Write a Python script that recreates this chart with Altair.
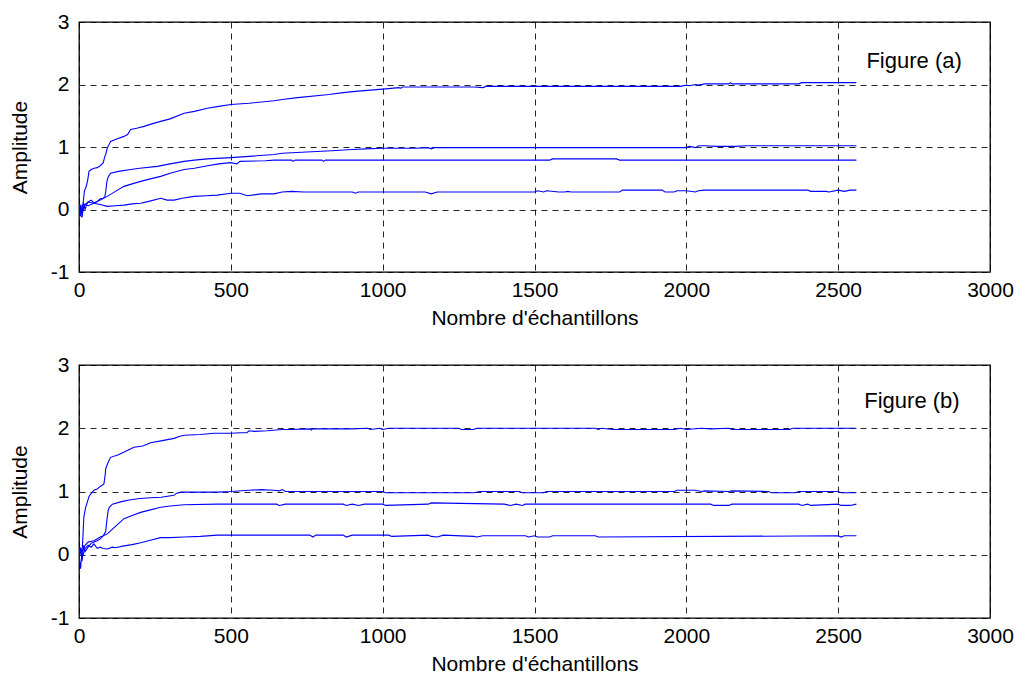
import altair as alt
import pandas as pd

# ---------------- Panel (a) ----------------
a1_x = [0, 3, 6, 10, 14, 18, 22, 28, 33, 40, 50, 60, 70, 80, 85, 88, 93, 100, 104, 120,
        148, 160, 170, 190, 214, 240, 269, 300, 346, 380, 423, 460, 500, 560, 642, 669, 720, 823, 870, 911,
        960, 1010, 1053, 1060, 1065, 1100, 1300, 1330, 1340, 1500, 1980, 2000, 2010, 2030, 2040, 2060, 2140, 2145, 2150, 2370,
        2380, 2560]
a1_y = [0.0, -0.05, 0.08, -0.1, 0.12, 0.3, 0.34, 0.45, 0.61, 0.64, 0.66, 0.67, 0.7, 0.75, 0.85, 0.88, 0.98, 1.05, 1.09, 1.12,
        1.17, 1.2, 1.28, 1.3, 1.33, 1.37, 1.41, 1.45, 1.54, 1.57, 1.62, 1.65, 1.68, 1.70, 1.74, 1.76, 1.79, 1.84, 1.87, 1.89,
        1.91, 1.93, 1.95, 1.94, 1.96, 1.96, 1.96, 1.95, 1.97, 1.97, 1.97, 1.99, 1.98, 2.0, 1.99, 2.01, 2.01, 2.03, 2.01, 2.01,
        2.03, 2.03]

a2_x = [0, 5, 10, 15, 20, 25, 30, 40, 50, 60, 70, 80, 85, 88, 92, 96, 104, 130, 170, 200,
        258, 300, 346, 380, 423, 500, 560, 642, 669, 750, 833, 900, 944, 1000, 1108, 1150, 1160, 1170, 1500, 2000,
        2010, 2030, 2040, 2060, 2100, 2160, 2200, 2300, 2560]
a2_y = [0, -0.08, 0.05, 0.1, 0.0, 0.08, 0.12, 0.15, 0.1, 0.13, 0.17, 0.18, 0.2, 0.29, 0.45, 0.52, 0.58, 0.61, 0.64, 0.66,
        0.69, 0.73, 0.77, 0.79, 0.81, 0.83, 0.85, 0.88, 0.90, 0.92, 0.94, 0.96, 0.97, 0.98, 0.98, 0.99, 0.97, 0.99, 0.99, 0.99,
        1.01, 0.99, 1.02, 1.02, 1.01, 1.01, 1.02, 1.02, 1.02]

a3_x = [0, 5, 10, 20, 30, 49, 70, 93, 120, 148, 175, 203, 235, 269, 300, 346, 380, 423, 460, 500,
        520, 530, 614, 642, 700, 705, 712, 800, 805, 812, 1000, 1500, 1550, 1560, 1770, 1780, 2560]
a3_y = [0, 0.05, -0.05, 0.08, 0.06, 0.10, 0.15, 0.21, 0.29, 0.37, 0.41, 0.45, 0.49, 0.53, 0.58, 0.64, 0.66, 0.70, 0.73, 0.75,
        0.73, 0.77, 0.78, 0.79, 0.79, 0.77, 0.79, 0.79, 0.77, 0.79, 0.79, 0.79, 0.79, 0.81, 0.81, 0.79, 0.79]

a4_x = [0, 5, 10, 15, 20, 30, 49, 70, 93, 120, 148, 175, 203, 230, 269, 290, 313, 340, 379, 420,
        455, 500, 530, 554, 600, 642, 669, 700, 740, 900, 910, 920, 1140, 1160, 1180, 1500, 1510, 1530, 1540, 1580,
        1600, 1610, 1620, 1640, 1780, 1790, 1920, 1930, 1960, 1970, 2000, 2030, 2040, 2060, 2400, 2410, 2460, 2470, 2500, 2520,
        2540, 2560]
a4_y = [0, -0.1, -0.12, 0.05, 0.08, 0.12, 0.10, 0.08, 0.05, 0.06, 0.07, 0.09, 0.10, 0.13, 0.18, 0.15, 0.15, 0.18, 0.21, 0.22,
        0.23, 0.26, 0.26, 0.22, 0.25, 0.25, 0.28, 0.29, 0.28, 0.28, 0.26, 0.28, 0.28, 0.25, 0.28, 0.28, 0.30, 0.28, 0.30, 0.28,
        0.28, 0.29, 0.28, 0.28, 0.28, 0.31, 0.31, 0.28, 0.28, 0.30, 0.30, 0.28, 0.30, 0.31, 0.31, 0.29, 0.29, 0.28, 0.31, 0.29,
        0.31, 0.31]

# ---------------- Panel (b) ----------------
b1_x = [0, 3, 5, 8, 12, 16, 22, 33, 40, 49, 60, 70, 82, 86, 88, 95, 104, 130, 159, 181,
        210, 236, 270, 313, 330, 346, 400, 445, 500, 530, 553, 560, 577, 620, 669, 700, 760, 765, 770, 900,
        950, 960, 990, 1000, 1020, 1250, 1260, 1300, 1310, 1700, 1710, 1720, 1760, 1790, 1960, 1980, 2000, 2050, 2080, 2140,
        2150, 2340, 2350, 2560]
b1_y = [0, -0.15, -0.22, -0.05, 0.2, 0.6, 0.75, 0.92, 0.97, 1.02, 1.04, 1.08, 1.12, 1.25, 1.36, 1.45, 1.54, 1.58, 1.65, 1.70,
        1.72, 1.77, 1.80, 1.84, 1.87, 1.89, 1.90, 1.92, 1.92, 1.93, 1.93, 1.96, 1.95, 1.96, 1.98, 1.98, 1.99, 1.97, 1.99, 1.99,
        2.0, 1.98, 2.0, 1.98, 2.0, 2.0, 1.98, 1.98, 2.0, 2.0, 1.98, 2.0, 1.98, 1.98, 1.98, 2.0, 1.98, 2.0, 1.99, 2.0,
        1.98, 1.98, 2.0, 2.0]

b2_x = [0, 5, 10, 15, 20, 30, 40, 50, 60, 70, 80, 88, 92, 96, 100, 110, 140, 170, 200, 236,
        270, 313, 320, 335, 400, 455, 500, 560, 600, 642, 660, 670, 680, 700, 1000, 1010, 1100, 1150, 1300, 1320,
        1450, 1460, 1530, 1540, 1960, 1970, 2030, 2050, 2060, 2140, 2150, 2270, 2280, 2360, 2370, 2500, 2510, 2560]
b2_y = [0, 0.1, -0.1, 0.15, 0.05, 0.12, 0.18, 0.2, 0.22, 0.25, 0.3, 0.37, 0.55, 0.7, 0.75, 0.80, 0.84, 0.87, 0.89, 0.90,
        0.91, 0.94, 0.97, 0.99, 0.99, 0.99, 1.0, 1.02, 1.03, 1.02, 1.01, 1.03, 1.0, 1.0, 1.0, 0.98, 0.98, 0.98, 0.98, 1.0,
        1.0, 0.98, 0.98, 1.0, 1.0, 1.02, 1.02, 1.0, 1.01, 1.0, 1.01, 1.0, 0.98, 0.98, 1.0, 1.0, 0.98, 0.98]

b3_x = [0, 5, 10, 20, 30, 49, 70, 80, 93, 120, 148, 175, 203, 235, 269, 300, 346, 455, 500, 650,
        660, 680, 870, 880, 900, 920, 940, 1000, 1010, 1150, 1160, 1400, 1420, 1440, 1460, 1470, 2080, 2090, 2140, 2150,
        2370, 2380, 2400, 2410, 2500, 2510, 2540, 2560]
b3_y = [0, 0.1, 0.05, 0.15, 0.2, 0.22, 0.28, 0.3, 0.33, 0.45, 0.57, 0.62, 0.67, 0.71, 0.75, 0.77, 0.79, 0.80, 0.80, 0.80,
        0.78, 0.80, 0.80, 0.78, 0.80, 0.78, 0.80, 0.80, 0.78, 0.80, 0.82, 0.80, 0.78, 0.80, 0.78, 0.80, 0.80, 0.78, 0.78, 0.80,
        0.80, 0.78, 0.80, 0.78, 0.80, 0.78, 0.78, 0.80]

b4_x = [0, 5, 10, 20, 30, 40, 49, 60, 70, 80, 93, 110, 120, 148, 175, 203, 235, 269, 300, 346,
        400, 455, 500, 760, 770, 780, 870, 880, 900, 1020, 1030, 1150, 1160, 1180, 1200, 1300, 1310, 1330, 1470, 1480,
        1500, 1510, 1550, 1560, 1700, 1710, 2500, 2510, 2520, 2560]
b4_y = [0, 0.05, -0.05, 0.1, 0.15, 0.12, 0.17, 0.1, 0.12, 0.1, 0.09, 0.12, 0.11, 0.14, 0.16, 0.19, 0.23, 0.27, 0.27, 0.28,
        0.29, 0.31, 0.31, 0.31, 0.28, 0.31, 0.31, 0.28, 0.31, 0.31, 0.29, 0.31, 0.29, 0.28, 0.31, 0.29, 0.28, 0.30, 0.30, 0.28,
        0.30, 0.28, 0.28, 0.30, 0.30, 0.28, 0.30, 0.28, 0.30, 0.30]

panel_labels = ["Figure (a)", "Figure (b)"]
label_x = [2750, 2743]
label_y = [2.37, 2.43]

x_ticks = [0, 500, 1000, 1500, 2000, 2500, 3000]
y_ticks = [-1, 0, 1, 2, 3]

FONT = "Liberation Sans"
BLUE = "#0000ff"


def build_df(series):
    rows = []
    for name, xs, ys in series:
        assert len(xs) == len(ys), (name, len(xs), len(ys))
        for i, (xv, yv) in enumerate(zip(xs, ys)):
            rows.append({"series": name, "idx": i, "n": xv, "amp": yv})
    return pd.DataFrame(rows)


df_a = build_df([("s1", a1_x, a1_y), ("s2", a2_x, a2_y), ("s3", a3_x, a3_y), ("s4", a4_x, a4_y)])
df_b = build_df([("s1", b1_x, b1_y), ("s2", b2_x, b2_y), ("s3", b3_x, b3_y), ("s4", b4_x, b4_y)])


def panel(df, label, lx, ly, h):
    xax = alt.Axis(values=x_ticks, title="Nombre d'échantillons", grid=True, ticks=False,
                   labelFlush=False, labelPadding=7, titlePadding=7,
                   labelExpr="'' + datum.value")
    yax = alt.Axis(values=y_ticks, title="Amplitude", grid=True, ticks=False,
                   labelPadding=10, titlePadding=20, labelExpr="'' + datum.value")
    xs = alt.Scale(domain=[0, 3000], nice=False, zero=False)
    ys = alt.Scale(domain=[-1, 3], nice=False, zero=False)
    lines = alt.Chart(df).mark_line(color=BLUE, strokeWidth=1.1, clip=True).encode(
        x=alt.X("n:Q", scale=xs, axis=xax),
        y=alt.Y("amp:Q", scale=ys, axis=yax),
        detail="series:N",
        order="idx:Q",
    )
    tdf = pd.DataFrame({"n": [lx], "amp": [ly], "t": [label]})
    txt = alt.Chart(tdf).mark_text(font=FONT, fontSize=22, color="black", align="center",
                                   baseline="middle").encode(
        x=alt.X("n:Q", scale=xs), y=alt.Y("amp:Q", scale=ys), text="t:N")
    return alt.layer(lines, txt).properties(width=911, height=h)


pa = panel(df_a, panel_labels[0], label_x[0], label_y[0], 250)
pb = panel(df_b, panel_labels[1], label_x[1], label_y[1], 253)

chart = alt.vconcat(pa, pb, spacing=24).properties(
    padding={"left": 8, "top": 10, "right": 5, "bottom": 5},
    background="white",
).configure(font=FONT).configure_view(
    stroke="black", strokeWidth=1.3
).configure_axis(
    labelFont=FONT, titleFont=FONT, labelFontSize=21, titleFontSize=21,
    labelColor="black", titleColor="black", titleFontWeight="normal",
    domain=False, gridColor="black", gridDash=[6, 5], gridWidth=1, gridOpacity=0.85,
)

chart.save("out.html", embed_options={"renderer": "svg", "actions": False})
